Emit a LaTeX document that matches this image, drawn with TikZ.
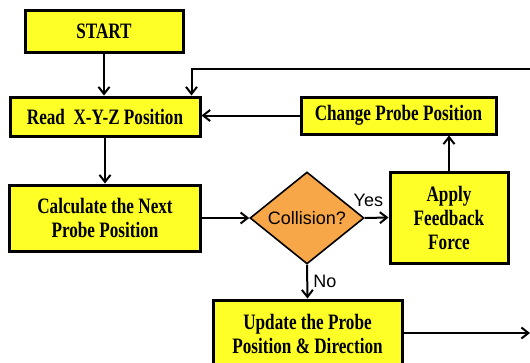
\documentclass[tikz,border=0pt]{standalone}
\usepackage{graphicx}
\usepackage{fontspec}
\setmainfont{Liberation Serif}
\newfontfamily\sansfont{Liberation Sans}
\usepackage{tikz}
\usetikzlibrary{arrows.meta,shapes.geometric}
\definecolor{boxyellow}{RGB}{255,255,40}
\definecolor{diaorange}{RGB}{247,166,72}
\newcommand{\narrow}[1]{\scalebox{0.78}[1]{#1}}

\begin{document}
\begin{tikzpicture}[x=1pt,y=-1pt,
    stepbox/.style={draw=black,line width=3pt,fill=boxyellow,inner sep=0pt,align=center,
        font=\bfseries\fontsize{22}{24}\selectfont},
    decision/.style={diamond,draw=black,line width=1.6pt,fill=diaorange,inner sep=0pt,
        minimum width=114pt,minimum height=92pt,font=\sansfont\fontsize{18}{20}\selectfont},
    flow/.style={line width=2pt,-{Straight Barb[length=7pt,width=11pt,line width=2pt]}},
    lbl/.style={font=\sansfont\fontsize{18}{20}\selectfont,inner sep=0pt}]
    \useasboundingbox (0,0) rectangle (530,362);
    \clip (0,0) rectangle (530,362);
    % boxes
    \node[stepbox,minimum width=158pt,minimum height=42pt] (start) at (104,31) {\narrow{START}};
    \node[stepbox,minimum width=190pt,minimum height=39pt] (read) at (105,116.5) {\narrow{Read\ \ X-Y-Z Position}};
    \node[stepbox,minimum width=195pt,minimum height=37pt] (change) at (398.5,115.5) {\narrow{Change Probe Position}};
    \node[stepbox,minimum width=191pt,minimum height=66pt] (calc) at (105,218) {\narrow{Calculate the Next}\\\narrow{Probe Position}};
    \node[decision] (coll) at (307,218) {Collision?};
    \node[stepbox,minimum width=118pt,minimum height=91pt] (apply) at (449,217.5) {\narrow{Apply}\\\narrow{Feedback}\\\narrow{Force}};
    \node[stepbox,minimum width=189pt,minimum height=68pt] (update) at (307.5,334) {\narrow{Update the Probe}\\\narrow{Position \& Direction}};
    \coordinate (loop) at (530,69);
    \coordinate (out) at (530,333);
    % arrows
    \draw[flow] (start.south) -- (start.south |- read.north);
    \draw[flow] (read.south) -- (read.south |- calc.north);
    \draw[flow] (calc.east) -- (coll.west);
    \draw[flow] (coll.east) -- node[lbl,pos=0.15,above=10pt] {Yes} (apply.west);
    \draw[flow] (coll.south) -- node[lbl,right=5pt] {No} (update.north);
    \draw[flow] (apply.north) -- (apply.north |- change.south);
    \draw[flow] (change.west) -- (change.west -| read.east);
    \draw[flow] (loop) -| ([xshift=-10pt]read.north east);
    \draw[flow] (update.east |- out) -- (out);
\end{tikzpicture}
\end{document}
